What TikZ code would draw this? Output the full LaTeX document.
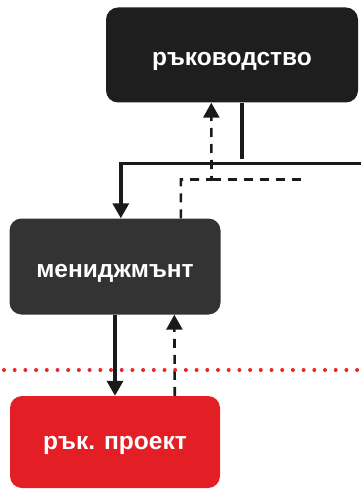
\documentclass[tikz,border=0pt]{standalone}
\usepackage{fontspec}
\setmainfont{Liberation Sans}
\usetikzlibrary{arrows.meta,calc}
\definecolor{boxtop}{HTML}{1E1E1E}
\definecolor{boxmid}{HTML}{333333}
\definecolor{boxred}{HTML}{E31E24}
\definecolor{linedark}{HTML}{1A1A1A}
\definecolor{dotred}{HTML}{E8262B}
\tikzset{
  block/.style={rounded corners=12pt, inner sep=0pt, text=white, text depth=0pt,
    font=\fontsize{24.5}{28}\selectfont\bfseries},
  mainline/.style={draw=linedark, line width=3.4pt},
  fbline/.style={draw=linedark, line width=2.6pt, dash pattern=on 9pt off 7pt},
  tip/.style={-{Triangle[width=16pt,length=15pt]}},
  border/.style={draw=dotred, line width=4pt, line cap=round, dash pattern=on 0pt off 10.7pt}
}
\begin{document}
\begin{tikzpicture}[x=1pt,y=-1pt]
\useasboundingbox (0,0) rectangle (360,489);
% boxes
\node[block, fill=boxtop, text height=21.4pt, minimum width=252pt, minimum height=95pt] (top) at (232,55) {ръководство};
\node[block, fill=boxmid, text height=21.6pt, minimum width=211pt, minimum height=96pt] (mgr) at (115,266.5) {мениджмънт};
\node[block, fill=boxred, text height=14.6pt, minimum width=210pt, minimum height=92pt] (prj) at (115,442) {рък. проект};
% attachment points on the box edges
\coordinate (topOut) at ($(top.south west)+(136,0)$);
\coordinate (topIn)  at ($(top.south west)+(105.5,0)$);
\coordinate (mgrIn)  at ($(mgr.north west)+(111.5,0)$);
\coordinate (mgrOut) at ($(mgr.north west)+(171.5,0)$);
\coordinate (mgrFb)  at ($(mgr.south west)+(165,0)$);
\coordinate (prjFb)  at ($(prj.north west)+(165,0)$);
% bus lines
\coordinate (busR) at (362,163.3);
\coordinate (busTop) at (242,158.5);
\coordinate (dJ) at (211.5,179.5);
\coordinate (dR) at (303,179.5);
% directive path: top -> bus -> manager
\draw[mainline] (topOut) -- (topOut |- busTop);
\draw[mainline,tip] (busR) -| (mgrIn);
% feedback path: manager -> top
\draw[fbline,tip] (mgrOut) |- (dJ) -- (topIn);
\draw[fbline] (dJ) -- (dR);
% manager <-> project
\draw[mainline,tip] (mgr.south) -- (prj.north);
\draw[fbline,tip] (prjFb) -- (mgrFb);
% boundary
\draw[border] (4,370) -- (360,370);
\end{tikzpicture}
\end{document}
